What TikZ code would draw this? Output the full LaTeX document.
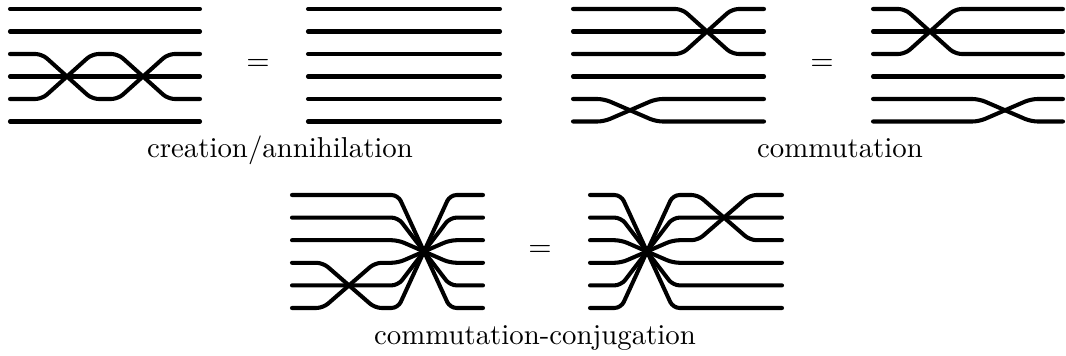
\documentclass[tikz,border=0pt]{standalone}
\usepackage{tikz}
\begin{document}
\begin{tikzpicture}[x=0.33333pt,y=-0.33333pt,
  wire/.style={line width=1.35pt,line cap=round,rounded corners=2.2pt},
  lbl/.style={font=\fontsize{9.6}{11}\selectfont,inner sep=0pt,anchor=base},
  eq/.style={font=\fontsize{9.6}{11}\selectfont,inner sep=0pt}]
\useasboundingbox (0,0) rectangle (1066,356);
% top levels
\def\ya{9}\def\yb{31.5}\def\yc{54}\def\yd{76.5}\def\ye{99}\def\yf{121.5}
% bottom levels
\def\ba{195}\def\bb{217.6}\def\bc{240.2}\def\bd{262.8}\def\be{285.4}\def\bf{308}

% ---- panel 1 ----
\foreach \y in {\ya,\yb,\yd,\yf} \draw[wire] (10,\y) -- (200,\y);
\draw[wire] (10,\yc) -- (42,\yc) -- (92,\ye) -- (118,\ye) -- (168,\yc) -- (200,\yc);
\draw[wire] (10,\ye) -- (42,\ye) -- (92,\yc) -- (118,\yc) -- (168,\ye) -- (200,\ye);
\node[eq] (eq1) at (258,65) {$=$};
% ---- panel 2 ----
\foreach \y in {\ya,\yb,\yc,\yd,\ye,\yf} \draw[wire] (308,\y) -- (500,\y);
\node[lbl] (l1) at (280,158) {creation/annihilation};

% ---- panel 3 ----
\foreach \y in {\yb,\yd} \draw[wire] (573,\y) -- (764,\y);
\draw[wire] (573,\ya) -- (682,\ya) -- (732,\yc) -- (764,\yc);
\draw[wire] (573,\yc) -- (682,\yc) -- (732,\ya) -- (764,\ya);
\draw[wire] (573,\ye) -- (604,\ye) -- (656,\yf) -- (764,\yf);
\draw[wire] (573,\yf) -- (604,\yf) -- (656,\ye) -- (764,\ye);
\node[eq] (eq2) at (822,65) {$=$};
% ---- panel 4 ----
\foreach \y in {\yb,\yd} \draw[wire] (873,\y) -- (1063,\y);
\draw[wire] (873,\ya) -- (905,\ya) -- (955,\yc) -- (1063,\yc);
\draw[wire] (873,\yc) -- (905,\yc) -- (955,\ya) -- (1063,\ya);
\draw[wire] (873,\ye) -- (979,\ye) -- (1031,\yf) -- (1063,\yf);
\draw[wire] (873,\yf) -- (979,\yf) -- (1031,\ye) -- (1063,\ye);
\node[lbl] (l2) at (840,158) {commutation};

% ---- panel 5 ----
\draw[wire] (292,\ba) -- (398,\ba) -- (450,\bf) -- (483,\bf);
\draw[wire] (292,\bb) -- (398,\bb) -- (450,\be) -- (483,\be);
\draw[wire] (292,\bc) -- (398,\bc) -- (450,\bd) -- (483,\bd);
\draw[wire] (292,\bd) -- (323,\bd) -- (375,\bf) -- (398,\bf) -- (450,\ba) -- (483,\ba);
\draw[wire] (292,\be) -- (398,\be) -- (450,\bb) -- (483,\bb);
\draw[wire] (292,\bf) -- (323,\bf) -- (375,\bd) -- (398,\bd) -- (450,\bc) -- (483,\bc);
\node[eq] (eq3) at (540,251.5) {$=$};
% ---- panel 6 ----
\draw[wire] (590,\ba) -- (621,\ba) -- (673,\bf) -- (782,\bf);
\draw[wire] (590,\bb) -- (621,\bb) -- (673,\be) -- (782,\be);
\draw[wire] (590,\bc) -- (621,\bc) -- (673,\bd) -- (782,\bd);
\draw[wire] (590,\bd) -- (621,\bd) -- (673,\bc) -- (698,\bc) -- (750,\ba) -- (782,\ba);
\draw[wire] (590,\be) -- (621,\be) -- (673,\bb) -- (782,\bb);
\draw[wire] (590,\bf) -- (621,\bf) -- (673,\ba) -- (698,\ba) -- (750,\bc) -- (782,\bc);
\node[lbl] (l3) at (535,345) {commutation-conjugation};
\end{tikzpicture}
\end{document}
